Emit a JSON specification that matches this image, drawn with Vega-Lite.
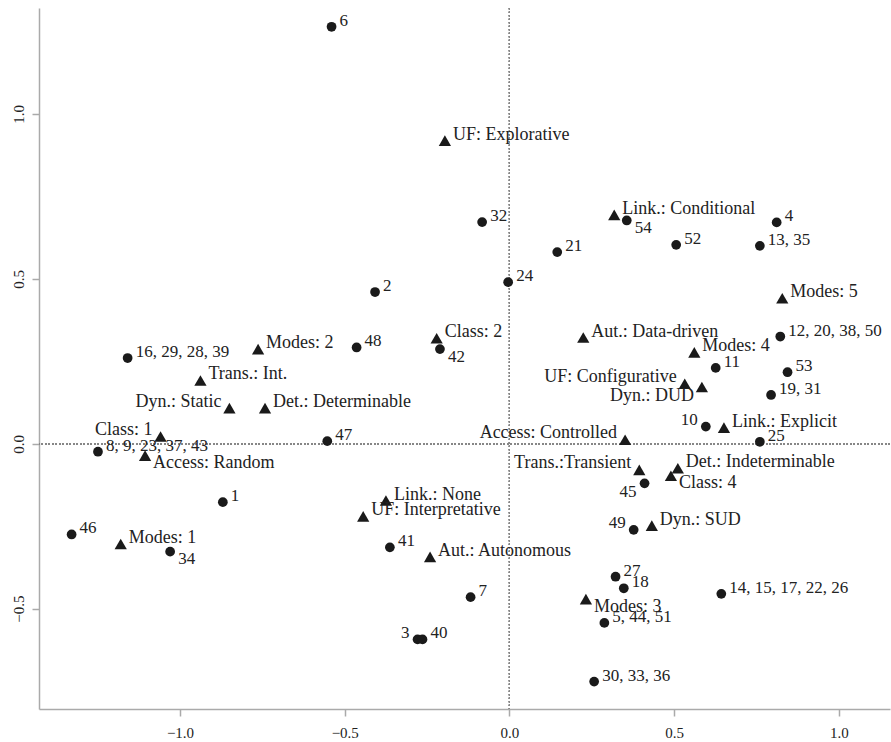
{
  "$schema": "https://vega.github.io/schema/vega-lite/v6.json",
  "width": 851,
  "height": 701,
  "autosize": {"type": "none"},
  "padding": {"left": 39, "top": 8, "right": 1, "bottom": 33},
  "config": {"view": {"stroke": null}, "font": "'Liberation Serif', 'DejaVu Serif', serif"},
  "data": {"values": [
    {"x": -0.540, "y": 1.264, "label": "6", "type": "o", "pos": "r"},
    {"x": -0.083, "y": 0.672, "label": "32", "type": "o", "pos": "r"},
    {"x": 0.356, "y": 0.677, "label": "54", "type": "o", "pos": "br"},
    {"x": 0.811, "y": 0.671, "label": "4", "type": "o", "pos": "r"},
    {"x": 0.506, "y": 0.603, "label": "52", "type": "o", "pos": "r"},
    {"x": 0.760, "y": 0.600, "label": "13, 35", "type": "o", "pos": "r"},
    {"x": 0.145, "y": 0.581, "label": "21", "type": "o", "pos": "r"},
    {"x": -0.004, "y": 0.490, "label": "24", "type": "o", "pos": "r"},
    {"x": -0.408, "y": 0.460, "label": "2", "type": "o", "pos": "r"},
    {"x": -0.464, "y": 0.292, "label": "48", "type": "o", "pos": "r"},
    {"x": -0.211, "y": 0.287, "label": "42", "type": "o", "pos": "br"},
    {"x": -1.159, "y": 0.260, "label": "16, 29, 28, 39", "type": "o", "pos": "r"},
    {"x": -1.249, "y": -0.024, "label": "8, 9, 23, 37, 43", "type": "o", "pos": "r"},
    {"x": -0.553, "y": 0.008, "label": "47", "type": "o", "pos": "r"},
    {"x": 0.822, "y": 0.325, "label": "12, 20, 38, 50", "type": "o", "pos": "r"},
    {"x": 0.626, "y": 0.230, "label": "11", "type": "o", "pos": "r"},
    {"x": 0.844, "y": 0.217, "label": "53", "type": "o", "pos": "r"},
    {"x": 0.794, "y": 0.148, "label": "19, 31", "type": "o", "pos": "r"},
    {"x": 0.596, "y": 0.052, "label": "10", "type": "o", "pos": "l"},
    {"x": 0.760, "y": 0.006, "label": "25", "type": "o", "pos": "r"},
    {"x": 0.410, "y": -0.120, "label": "45", "type": "o", "pos": "bl"},
    {"x": 0.377, "y": -0.261, "label": "49", "type": "o", "pos": "l"},
    {"x": 0.322, "y": -0.403, "label": "27", "type": "o", "pos": "r"},
    {"x": 0.347, "y": -0.438, "label": "18", "type": "o", "pos": "r"},
    {"x": -0.118, "y": -0.465, "label": "7", "type": "o", "pos": "r"},
    {"x": 0.643, "y": -0.455, "label": "14, 15, 17, 22, 26", "type": "o", "pos": "r"},
    {"x": 0.288, "y": -0.543, "label": "5, 44, 51", "type": "o", "pos": "r"},
    {"x": 0.257, "y": -0.721, "label": "30, 33, 36", "type": "o", "pos": "r"},
    {"x": -0.870, "y": -0.177, "label": "1", "type": "o", "pos": "r"},
    {"x": -1.329, "y": -0.275, "label": "46", "type": "o", "pos": "r"},
    {"x": -1.030, "y": -0.327, "label": "34", "type": "o", "pos": "br"},
    {"x": -0.363, "y": -0.314, "label": "41", "type": "o", "pos": "r"},
    {"x": -0.279, "y": -0.593, "label": "3", "type": "o", "pos": "l"},
    {"x": -0.264, "y": -0.593, "label": "40", "type": "o", "pos": "r"},
    {"x": -0.196, "y": 0.919, "label": "UF: Explorative", "type": "c", "pos": "r"},
    {"x": 0.318, "y": 0.694, "label": "Link.: Conditional", "type": "c", "pos": "r"},
    {"x": 0.828, "y": 0.441, "label": "Modes: 5", "type": "c", "pos": "r"},
    {"x": 0.224, "y": 0.322, "label": "Aut.: Data-driven", "type": "c", "pos": "r"},
    {"x": -0.221, "y": 0.320, "label": "Class: 2", "type": "c", "pos": "r"},
    {"x": 0.561, "y": 0.277, "label": "Modes: 4", "type": "c", "pos": "r"},
    {"x": 0.532, "y": 0.182, "label": "UF: Configurative", "type": "c", "pos": "l"},
    {"x": 0.584, "y": 0.172, "label": "Dyn.: DUD", "type": "c", "pos": "bl"},
    {"x": 0.651, "y": 0.049, "label": "Link.: Explicit", "type": "c", "pos": "r"},
    {"x": 0.351, "y": 0.012, "label": "Access: Controlled", "type": "c", "pos": "l"},
    {"x": 0.394, "y": -0.079, "label": "Trans.:Transient", "type": "c", "pos": "l"},
    {"x": 0.511, "y": -0.074, "label": "Det.: Indeterminable", "type": "c", "pos": "r"},
    {"x": 0.490, "y": -0.097, "label": "Class: 4", "type": "c", "pos": "br"},
    {"x": 0.432, "y": -0.248, "label": "Dyn.: SUD", "type": "c", "pos": "r"},
    {"x": 0.232, "y": -0.471, "label": "Modes: 3", "type": "c", "pos": "br"},
    {"x": -0.763, "y": 0.287, "label": "Modes: 2", "type": "c", "pos": "r"},
    {"x": -0.938, "y": 0.192, "label": "Trans.: Int.", "type": "c", "pos": "r"},
    {"x": -0.850, "y": 0.108, "label": "Dyn.: Static", "type": "c", "pos": "l"},
    {"x": -0.742, "y": 0.108, "label": "Det.: Determinable", "type": "c", "pos": "r"},
    {"x": -1.059, "y": 0.022, "label": "Class: 1", "type": "c", "pos": "l"},
    {"x": -1.106, "y": -0.036, "label": "Access: Random", "type": "c", "pos": "br"},
    {"x": -1.180, "y": -0.304, "label": "Modes: 1", "type": "c", "pos": "r"},
    {"x": -0.375, "y": -0.172, "label": "Link.: None", "type": "c", "pos": "r"},
    {"x": -0.444, "y": -0.220, "label": "UF: Interpretative", "type": "c", "pos": "r"},
    {"x": -0.241, "y": -0.343, "label": "Aut.: Autonomous", "type": "c", "pos": "r"}
  ]},
  "encoding": {
    "x": {"field": "x", "type": "quantitative",
      "scale": {"domain": [-1.428, 1.155], "nice": false, "zero": false},
      "axis": {"title": null, "grid": false, "values": [-1, -0.5, 0, 0.5, 1], "format": ".1f",
        "domainColor": "#aaaaaa", "domainWidth": 1.5, "tickColor": "#aaaaaa", "tickWidth": 1.5, "tickSize": 7,
        "labelFont": "'Liberation Serif', 'DejaVu Serif', serif", "labelFontSize": 15, "labelColor": "#222222", "labelPadding": 9, "labelFlush": false}},
    "y": {"field": "y", "type": "quantitative",
      "scale": {"domain": [-0.804, 1.321], "nice": false, "zero": false},
      "axis": {"title": null, "grid": false, "values": [-0.5, 0, 0.5, 1], "format": ".1f",
        "domainColor": "#aaaaaa", "domainWidth": 1.5, "tickColor": "#aaaaaa", "tickWidth": 1.5, "tickSize": 7,
        "labelFont": "'Liberation Serif', 'DejaVu Serif', serif", "labelFontSize": 15, "labelColor": "#222222", "labelPadding": 6, "labelFlush": false,
        "labelAngle": -90, "labelAlign": "center", "labelBaseline": "bottom"}}
  },
  "layer": [
    {"mark": {"type": "rule", "color": "#888888", "strokeWidth": 1, "strokeDash": [1.5, 2]},
     "encoding": {"x": {"datum": 0}, "y": null}},
    {"mark": {"type": "rule", "color": "#888888", "strokeWidth": 1, "strokeDash": [1.5, 2]},
     "encoding": {"y": {"datum": 0}, "x": null}},
    {"transform": [{"filter": "datum.type === 'o'"}],
     "mark": {"type": "point", "shape": "circle", "filled": true, "size": 95, "color": "#1a1a1a", "opacity": 1}},
    {"transform": [{"filter": "datum.type === 'c'"}],
     "mark": {"type": "point", "shape": "triangle-up", "filled": true, "size": 150, "color": "#1a1a1a", "opacity": 1}},
    {"transform": [{"filter": "datum.pos === 'r'"}],
     "mark": {"type": "text", "align": "left", "baseline": "alphabetic", "dx": 8, "dy": -1, "font": "'Liberation Serif', 'DejaVu Serif', serif", "color": "#222222"},
     "encoding": {"text": {"field": "label"}, "size": {"condition": {"test": "datum.type === 'o'", "value": 17}, "value": 18}}},
    {"transform": [{"filter": "datum.pos === 'l'"}],
     "mark": {"type": "text", "align": "right", "baseline": "alphabetic", "dx": -8, "dy": -1.5, "font": "'Liberation Serif', 'DejaVu Serif', serif", "color": "#222222"},
     "encoding": {"text": {"field": "label"}, "size": {"condition": {"test": "datum.type === 'o'", "value": 17}, "value": 18}}},
    {"transform": [{"filter": "datum.pos === 'br'"}],
     "mark": {"type": "text", "align": "left", "baseline": "alphabetic", "dx": 8, "dy": 12.5, "font": "'Liberation Serif', 'DejaVu Serif', serif", "color": "#222222"},
     "encoding": {"text": {"field": "label"}, "size": {"condition": {"test": "datum.type === 'o'", "value": 17}, "value": 18}}},
    {"transform": [{"filter": "datum.pos === 'bl'"}],
     "mark": {"type": "text", "align": "right", "baseline": "alphabetic", "dx": -8, "dy": 14, "font": "'Liberation Serif', 'DejaVu Serif', serif", "color": "#222222"},
     "encoding": {"text": {"field": "label"}, "size": {"condition": {"test": "datum.type === 'o'", "value": 17}, "value": 18}}}
  ]
}
